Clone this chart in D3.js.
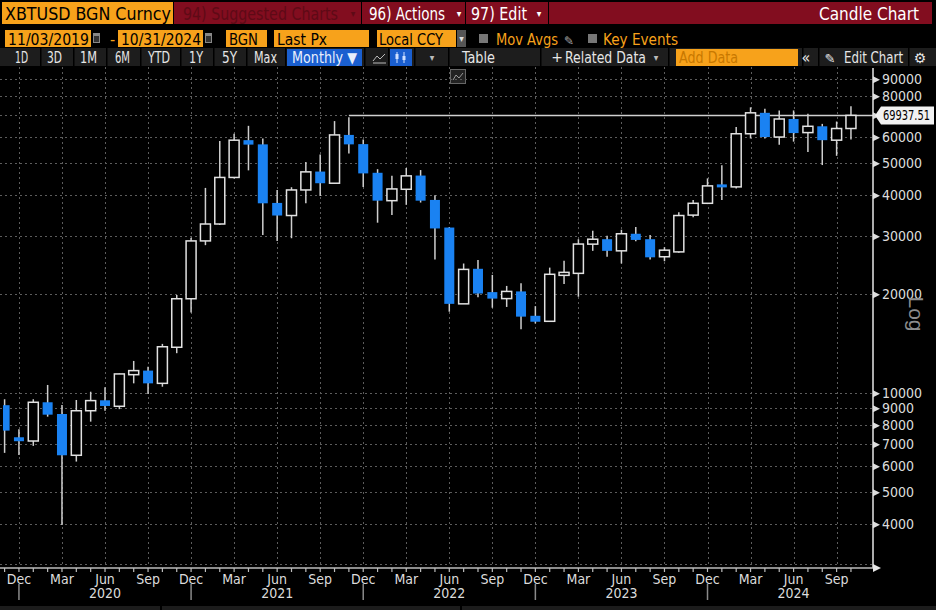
<!DOCTYPE html>
<html>
<head>
<meta charset="utf-8">
<script src="https://cdn.jsdelivr.net/npm/d3@7"></script>
<style>
body { margin: 0; background: #000; }
svg { display: block; }
</style>
</head>
<body>
<div id="chart"></div>
<script>
// monthly candles, Nov 2019 .. Oct 2024
var months = ["2019-11","2019-12",
  "2020-01","2020-02","2020-03","2020-04","2020-05","2020-06","2020-07","2020-08","2020-09","2020-10","2020-11","2020-12",
  "2021-01","2021-02","2021-03","2021-04","2021-05","2021-06","2021-07","2021-08","2021-09","2021-10","2021-11","2021-12",
  "2022-01","2022-02","2022-03","2022-04","2022-05","2022-06","2022-07","2022-08","2022-09","2022-10","2022-11","2022-12",
  "2023-01","2023-02","2023-03","2023-04","2023-05","2023-06","2023-07","2023-08","2023-09","2023-10","2023-11","2023-12",
  "2024-01","2024-02","2024-03","2024-04","2024-05","2024-06","2024-07","2024-08","2024-09","2024-10"];
var opens  = [9200,7350, 7160,9390,8650,6480,8850,9520,9130,11390,11720,10720,13800,19380,
  29050,32700,45300,58800,57100,37900,34700,41500,47200,43500,61000,57200,
  46800,38500,41700,45900,38700,31900,18700,23900,20300,19400,20400,17200,
  16550,22900,23150,28400,29400,27100,30540,29400,26000,26900,34800,37800,
  42800,42400,61500,71200,60100,68200,62000,64800,58800,63800];
var highs  = [9590,7770, 9590,10600,9210,9540,10110,10430,11480,12540,12050,14130,19900,29700,
  42100,58500,61500,65000,59500,41500,42300,50500,53200,67200,69000,59100,
  48000,45800,48400,47700,40000,32000,24800,25400,22900,21200,21600,18400,
  24100,25300,29400,31200,30100,31400,32000,30300,27800,35500,38700,45000,
  49300,64500,74000,73300,72400,72400,70700,65900,67000,74500];
var lows   = [6590,6490, 6920,8490,3980,6200,8200,8850,8950,10720,9950,10470,13240,17600,
  28200,32500,45000,47600,30300,29050,29600,37800,39800,43300,53600,42400,
  33000,34800,37400,38000,25500,17700,18700,19600,18200,18300,15650,16300,
  16500,21500,19650,27100,26000,24800,29000,25500,25200,26750,34300,37600,
  38700,41900,59500,59500,56900,58200,54100,49400,52700,59100];
var closes = [7700,7150, 9390,8610,6480,8850,9500,9150,11450,11720,10720,13850,19380,29050,
  32700,45300,58800,57000,37800,34700,41500,47100,43500,61000,57100,46600,
  38500,41800,45800,38500,31700,18700,23800,20100,19400,20400,17100,16500,
  23000,23240,28420,29400,27100,30540,29250,25900,27230,34700,37800,42700,
  42600,61500,71200,60100,68200,61800,64800,58800,63800,69937.51];

var yTicks = [4000,5000,6000,7000,8000,9000,10000,20000,30000,40000,50000,60000,70000,80000,90000];
var monthNames = ["Jan","Feb","Mar","Apr","May","Jun","Jul","Aug","Sep","Oct","Nov","Dec"];
var lastPx = 69937.51;
var lastPxFrom = "2021-11";

var W = 936, H = 610;
var plotLeft = 3, plotRight = 873, plotTop = 67, plotBottom = 568;
var NARROW = "'Liberation Sans Narrow','DejaVu Sans Condensed',sans-serif";

var svg = d3.select("#chart").append("svg")
    .attr("width", W).attr("height", H)
    .style("background", "#000");

// ---------- header (Bloomberg toolbar) ----------
function label(g, x, y, s, opt) {
    opt = opt || {};
    var t = g.append("text")
        .attr("x", x).attr("y", y)
        .attr("font-family", opt.family || NARROW)
        .attr("font-size", opt.size || 16)
        .attr("fill", opt.fill || "#fff")
        .attr("text-anchor", opt.anchor || "start")
        .text(s);
    if (opt.len) t.attr("textLength", opt.len).attr("lengthAdjust", "spacingAndGlyphs");
    return t;
}
var head = svg.append("g");
var ORANGE = "#f7a21b", RED = "#820d1f";

// row 1
head.append("rect").attr("x", 2).attr("y", 2).attr("width", 171).attr("height", 22).attr("fill", ORANGE);
label(head, 5, 20, "XBTUSD BGN Curncy", {fill: "#000", size: 18, len: 166});
head.append("rect").attr("x", 174).attr("y", 2).attr("width", 187).attr("height", 22).attr("fill", RED);
label(head, 183, 20, "94) Suggested Charts", {fill: "#5e0a16", size: 18, len: 155});
label(head, 353, 17, "▾", {fill: "#5e0a16", size: 10, anchor: "middle"});
head.append("rect").attr("x", 362).attr("y", 2).attr("width", 103).attr("height", 22).attr("fill", RED);
label(head, 369, 20, "96) Actions", {size: 18, len: 76});
label(head, 459, 17, "▾", {size: 10, anchor: "middle"});
head.append("rect").attr("x", 466).attr("y", 2).attr("width", 82).attr("height", 22).attr("fill", RED);
label(head, 471, 20, "97) Edit", {size: 18, len: 56});
label(head, 539, 17, "▾", {size: 10, anchor: "middle"});
head.append("rect").attr("x", 549).attr("y", 2).attr("width", 383).attr("height", 22).attr("fill", RED);
label(head, 919, 20, "Candle Chart", {size: 18, anchor: "end", len: 100});

// row 2
var boxes2 = [[5, 86, "11/03/2019", 8, 81], [118, 85, "10/31/2024", 121, 80], [226, 41, "BGN", 229, 29],
              [274, 95, "Last Px", 277, 50], [377, 79, "Local CCY", 379, 64]];
boxes2.forEach(function(b) {
    head.append("rect").attr("x", b[0]).attr("y", 30).attr("width", b[1]).attr("height", 17).attr("fill", ORANGE);
    label(head, b[3], 45, b[2], {fill: "#000", size: 16, len: b[4]});
});
[93, 205].forEach(function(x) {
    head.append("rect").attr("x", x).attr("y", 33).attr("width", 7).attr("height", 10).attr("fill", "#888");
    head.append("rect").attr("x", x + 1).attr("y", 36).attr("width", 5).attr("height", 6).attr("fill", "#333");
});
label(head, 110, 45, "-", {fill: ORANGE, size: 16});
head.append("rect").attr("x", 457).attr("y", 30).attr("width", 9).attr("height", 17).attr("fill", "#555");
label(head, 461.5, 42, "▾", {size: 10, anchor: "middle", fill: "#ddd"});
head.append("rect").attr("x", 479).attr("y", 34).attr("width", 9).attr("height", 9).attr("fill", "#777");
label(head, 496, 45, "Mov Avgs", {fill: ORANGE, size: 16, len: 62});
label(head, 569, 45, "✎", {fill: "#aaa", size: 12, anchor: "middle", family: "DejaVu Sans"});
head.append("rect").attr("x", 588).attr("y", 34).attr("width", 9).attr("height", 9).attr("fill", "#777");
label(head, 603, 45, "Key Events", {fill: ORANGE, size: 16, len: 75});

// row 3
head.append("rect").attr("x", 0).attr("y", 48).attr("width", W).attr("height", 18).attr("fill", "#1d1d1d");
[40, 73, 106, 140, 180, 213, 246, 285, 364, 388, 414, 448, 540, 668, 802, 818, 908].forEach(function(x) {
    head.append("rect").attr("x", x).attr("y", 48).attr("width", 1.5).attr("height", 18).attr("fill", "#000");
});
var btns = [["1D", 15, 13], ["3D", 47, 15], ["1M", 80, 17], ["6M", 115, 15], ["YTD", 148, 22],
            ["1Y", 189, 14], ["5Y", 222, 15], ["Max", 254, 23]];
btns.forEach(function(b) { label(head, b[1], 63, b[0], {size: 15, fill: "#e6e6e6", len: b[2]}); });
head.append("rect").attr("x", 287).attr("y", 49).attr("width", 75).attr("height", 17).attr("fill", "#1a5fd0");
label(head, 292, 63, "Monthly ▼", {size: 15, fill: "#e8eefc", len: 65});
head.append("path").attr("d", "M373,61 L377,56 L380,59 L385,54 M373,63 H386")
    .attr("stroke", "#bbb").attr("fill", "none").attr("stroke-width", 1);
head.append("rect").attr("x", 390).attr("y", 49).attr("width", 22).attr("height", 17).attr("fill", "#1a5fd0");
head.append("path").attr("d", "M397,52 V63 M404,52 V63").attr("stroke", "#cfe0ff").attr("stroke-width", 1);
head.append("rect").attr("x", 395.5).attr("y", 54).attr("width", 3).attr("height", 5).attr("fill", "#cfe0ff");
head.append("rect").attr("x", 402.5).attr("y", 56).attr("width", 3).attr("height", 4).attr("fill", "#cfe0ff");
label(head, 432, 61, "▾", {size: 10, anchor: "middle", fill: "#bbb"});
label(head, 462, 63, "Table", {size: 15, fill: "#e6e6e6", len: 33});
label(head, 557, 62, "+", {size: 14, fill: "#e6e6e6", anchor: "middle", family: "DejaVu Sans"});
label(head, 565, 63, "Related Data", {size: 15, fill: "#e6e6e6", len: 81});
label(head, 656, 61, "▾", {size: 10, anchor: "middle", fill: "#bbb"});
head.append("rect").attr("x", 676).attr("y", 49).attr("width", 122).attr("height", 17).attr("fill", ORANGE);
label(head, 679, 63, "Add Data", {size: 15, fill: "#c87800", len: 59});
label(head, 806, 63, "«", {size: 16, fill: "#e6e6e6", anchor: "middle"});
label(head, 830, 63, "✎", {size: 13, fill: "#e6e6e6", anchor: "middle", family: "DejaVu Sans"});
label(head, 844, 63, "Edit Chart", {size: 15, fill: "#e6e6e6", len: 59});
label(head, 920, 63, "⚙", {size: 14, fill: "#e6e6e6", anchor: "middle", family: "DejaVu Sans"});

// small chart-type button under the toolbar
head.append("rect").attr("x", 450.5).attr("y", 69.5).attr("width", 15).attr("height", 14)
    .attr("fill", "#222").attr("stroke", "#666");
head.append("path").attr("d", "M453,80 L456,75 L459,78 L463,73").attr("stroke", "#999").attr("fill", "none");

// ---------- scales ----------
var step = 14.345;
var x = d3.scaleBand().domain(months)
    .range([4.6 - step / 2, 4.6 - step / 2 + step * months.length])
    .padding(0);
var cx = function(m) { return x(m) + x.bandwidth() / 2; };
var y = d3.scaleLog().domain([3000, 100000]).range([565.3, 64.3]);

var candles = months.map(function(m, i) {
    return {m: m, o: opens[i], h: highs[i], l: lows[i], c: closes[i]};
});
var isQuarter = function(m) { var k = +m.slice(5); return k % 3 === 0; };

// ---------- grid ----------
var grid = svg.append("g").attr("stroke", "#5c5c5c").attr("stroke-width", 1).attr("stroke-dasharray", "2,3");
grid.selectAll("line.h").data(yTicks).enter().append("line")
    .attr("x1", 0).attr("x2", plotRight)
    .attr("y1", function(d) { return Math.round(y(d)) + 0.5; })
    .attr("y2", function(d) { return Math.round(y(d)) + 0.5; });
grid.append("line").attr("x1", 0).attr("x2", plotRight).attr("y1", 564.5).attr("y2", 564.5);
grid.selectAll("line.v").data(months.filter(isQuarter)).enter().append("line")
    .attr("x1", function(d) { return Math.round(cx(d)) + 0.5; })
    .attr("x2", function(d) { return Math.round(cx(d)) + 0.5; })
    .attr("y1", plotTop).attr("y2", 565);

// ---------- candles ----------
svg.append("clipPath").attr("id", "plotclip").append("rect")
    .attr("x", plotLeft).attr("y", plotTop).attr("width", plotRight - plotLeft).attr("height", plotBottom - plotTop);
var plot = svg.append("g").attr("clip-path", "url(#plotclip)");

// last price line
plot.append("line")
    .attr("x1", cx(lastPxFrom)).attr("x2", plotRight)
    .attr("y1", y(lastPx)).attr("y2", y(lastPx))
    .attr("stroke", "#d0d0d0").attr("stroke-width", 1.5);

var bodyW = 10;
var cg = plot.selectAll("g.candle").data(candles).enter().append("g");
cg.append("line")
    .attr("x1", function(d) { return cx(d.m); }).attr("x2", function(d) { return cx(d.m); })
    .attr("y1", function(d) { return y(d.h); }).attr("y2", function(d) { return y(d.l); })
    .attr("stroke", "#cfcfcf").attr("stroke-width", 1.5);
cg.append("rect")
    .attr("x", function(d) { return cx(d.m) - bodyW / 2; })
    .attr("width", bodyW)
    .attr("y", function(d) {
        var t = y(Math.max(d.o, d.c)), b = y(Math.min(d.o, d.c));
        return b - t < 3 ? (t + b) / 2 - 1.5 : t;
    })
    .attr("height", function(d) { return Math.max(3, y(Math.min(d.o, d.c)) - y(Math.max(d.o, d.c))); })
    .attr("fill", function(d) { return d.c < d.o ? "#1a82f2" : "#000"; })
    .attr("stroke", function(d) { return d.c < d.o ? "none" : "#e2e2e2"; })
    .attr("stroke-width", 1.5);

// ---------- y axis ----------
// the 70000 label sits under the last-price tag, so it is left blank
var yAxis = svg.append("g")
    .attr("transform", "translate(" + plotRight + ",0)")
    .call(d3.axisRight(y).tickValues(yTicks).tickSize(0).tickPadding(9)
        .tickFormat(function(d) { return d === 70000 ? "" : d3.format("d")(d); }));
yAxis.select(".domain").remove();
yAxis.selectAll("text").attr("font-family", NARROW).attr("font-size", 14).attr("fill", "#dcdcdc");
yAxis.selectAll(".tick").append("path").attr("d", "M0,-3.5 L7,0 L0,3.5 Z").attr("fill", "#dcdcdc");
svg.append("line").attr("x1", plotRight).attr("x2", plotRight).attr("y1", plotTop + 1).attr("y2", 568)
    .attr("stroke", "#e6e6e6").attr("stroke-width", 1.5);

// last price tag
var ly = y(lastPx);
svg.append("path")
    .attr("d", "M875," + ly + " L881," + (ly - 9) + " H934 V" + (ly + 9) + " H881 Z")
    .attr("fill", "#f2f2f2");
label(svg, 883, ly + 5, "69937.51", {fill: "#000", size: 14, len: 47});

// "Log" marker
svg.append("text")
    .attr("transform", "translate(909,314) rotate(90)")
    .attr("text-anchor", "middle")
    .attr("font-family", "'Liberation Sans','DejaVu Sans',sans-serif")
    .attr("font-size", 21).attr("fill", "#8d8d8d")
    .text("Log");

// ---------- x axis ----------
var xAxis = svg.append("g")
    .attr("transform", "translate(0,568)")
    .call(d3.axisBottom(x).tickSize(4).tickPadding(2)
        .tickFormat(function(m) { return isQuarter(m) ? monthNames[+m.slice(5) - 1] : ""; }));
xAxis.select(".domain").remove();
xAxis.selectAll("line").attr("stroke", "#bdbdbd").attr("stroke-width", 1.2);
xAxis.selectAll("text").attr("font-family", NARROW).attr("font-size", 14).attr("fill", "#dcdcdc");
svg.append("line").attr("x1", 0).attr("x2", plotRight).attr("y1", 568).attr("y2", 568)
    .attr("stroke", "#bdbdbd").attr("stroke-width", 1.5);
svg.append("path").attr("d", "M" + plotRight + ",564 L881,568 L" + plotRight + ",572 Z").attr("fill", "#e6e6e6");

// year labels at June, separators at December
var years = svg.append("g");
years.selectAll("text").data(months.filter(function(m) { return m.slice(5) === "06"; })).enter().append("text")
    .attr("x", cx).attr("y", 598)
    .attr("text-anchor", "middle")
    .attr("font-family", NARROW).attr("font-size", 14).attr("fill", "#dcdcdc")
    .text(function(m) { return m.slice(0, 4); });
years.selectAll("line").data(months.filter(function(m) { return m.slice(5) === "12"; })).enter().append("line")
    .attr("x1", cx).attr("x2", cx).attr("y1", 584).attr("y2", 600)
    .attr("stroke", "#8a8a8a").attr("stroke-width", 1.5);

// bottom strip
svg.append("rect").attr("x", 0).attr("y", 606).attr("width", W).attr("height", 4).attr("fill", "#1c1c1c");
[160, 460].forEach(function(xx) {
    svg.append("rect").attr("x", xx).attr("y", 606).attr("width", 2).attr("height", 4).attr("fill", "#000");
});
</script>
</body>
</html>
